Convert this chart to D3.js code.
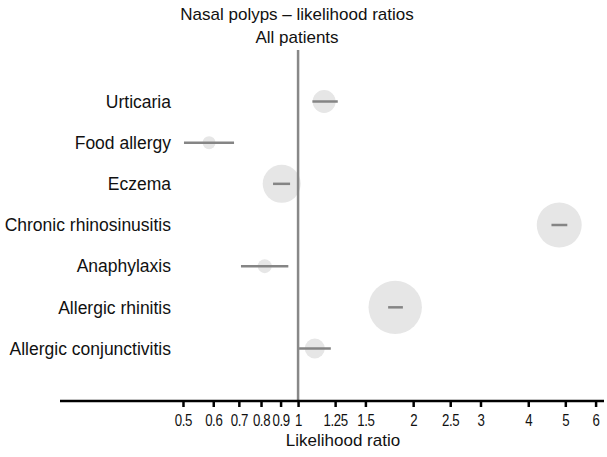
<!DOCTYPE html>
<html>
<head>
<meta charset="utf-8">
<script src="https://cdn.jsdelivr.net/npm/d3@7"></script>
<style>
  body { margin: 0; background: #fff; }
  svg { display: block; font-family: "Liberation Sans", Arial, sans-serif; }
</style>
</head>
<body>
<svg id="chart" width="607" height="457"></svg>
<script>
// ---- data ----
const categories = ["Urticaria", "Food allergy", "Eczema", "Chronic rhinosinusitis", "Anaphylaxis", "Allergic rhinitis", "Allergic conjunctivitis"];
const estimates  = [1.17, 0.585, 0.906, 4.82, 0.818, 1.795, 1.106];
const lowerCI    = [1.09, 0.503, 0.86, 4.60, 0.709, 1.72, 1.006];
const upperCI    = [1.27, 0.68, 0.953, 5.06, 0.943, 1.88, 1.218];
const weights    = [132, 42, 361, 506, 49, 713, 100];
const tickValues = [0.5, 0.6, 0.7, 0.8, 0.9, 1, 1.25, 1.5, 2, 2.5, 3, 4, 5, 6];
const tickLabels = ["0.5", "0.6", "0.7", "0.8", "0.9", "1", "1.25", "1.5", "2", "2.5", "3", "4", "5", "6"];
const titleLines = ["Nasal polyps \u2013 likelihood ratios", "All patients"];
const xTitle = "Likelihood ratio";

const rows = categories.map((c, i) => ({ c, est: estimates[i], lo: lowerCI[i], hi: upperCI[i], w: weights[i] }));

const svg = d3.select("#chart");

// x: log scale, 1 -> 299, 2 -> 414
const x = d3.scaleLog().domain([0.2384, 6.35]).range([60, 605]);
const y = d3.scalePoint().domain(categories).range([101.5, 348.5]);
const r = d3.scaleSqrt().domain([0, d3.max(weights)]).range([0, 26.7]);

// title
svg.append("g").selectAll("text").data(titleLines).join("text")
  .attr("x", 297).attr("y", (d, i) => 20 + i * 23)
  .attr("text-anchor", "middle").attr("font-size", 17).attr("fill", "#111")
  .text(d => d);

// bubbles
svg.append("g").selectAll("circle").data(rows).join("circle")
  .attr("cx", d => x(d.est)).attr("cy", d => y(d.c)).attr("r", d => r(d.w))
  .attr("fill", "#e6e6e6");

// reference line at 1
svg.append("line")
  .attr("x1", x(1)).attr("x2", x(1)).attr("y1", 50).attr("y2", 401)
  .attr("stroke", "#888").attr("stroke-width", 2.5);

// CI lines
svg.append("g").selectAll("line").data(rows).join("line")
  .attr("x1", d => x(d.lo)).attr("x2", d => x(d.hi))
  .attr("y1", d => y(d.c)).attr("y2", d => y(d.c))
  .attr("stroke", "#858585").attr("stroke-width", 2.5);

// category labels
svg.append("g").selectAll("text").data(categories).join("text")
  .attr("x", 171).attr("y", d => y(d)).attr("dy", "0.36em")
  .attr("text-anchor", "end").attr("font-size", 17.5).attr("fill", "#111")
  .text(d => d);

// x axis
const axis = d3.axisBottom(x)
  .tickValues(tickValues)
  .tickFormat((d, i) => tickLabels[i])
  .tickSize(6).tickSizeOuter(0);
const gx = svg.append("g").attr("transform", "translate(0,401)").call(axis);
gx.select(".domain").attr("stroke", "#000").attr("stroke-width", 2.5)
  .attr("d", `M60,0H604`);
gx.selectAll(".tick line").attr("stroke", "#000").attr("stroke-width", 2.5);
gx.selectAll(".tick text")
  .attr("font-size", 17).attr("fill", "#111").attr("y", 12.5).attr("dy", "0.71em")
  .attr("letter-spacing", "-0.5px")
  .attr("transform", "scale(0.78,1)");

// axis title
svg.append("text").attr("x", 343).attr("y", 446)
  .attr("text-anchor", "middle").attr("font-size", 17).attr("fill", "#111")
  .text(xTitle);
</script>
</body>
</html>
